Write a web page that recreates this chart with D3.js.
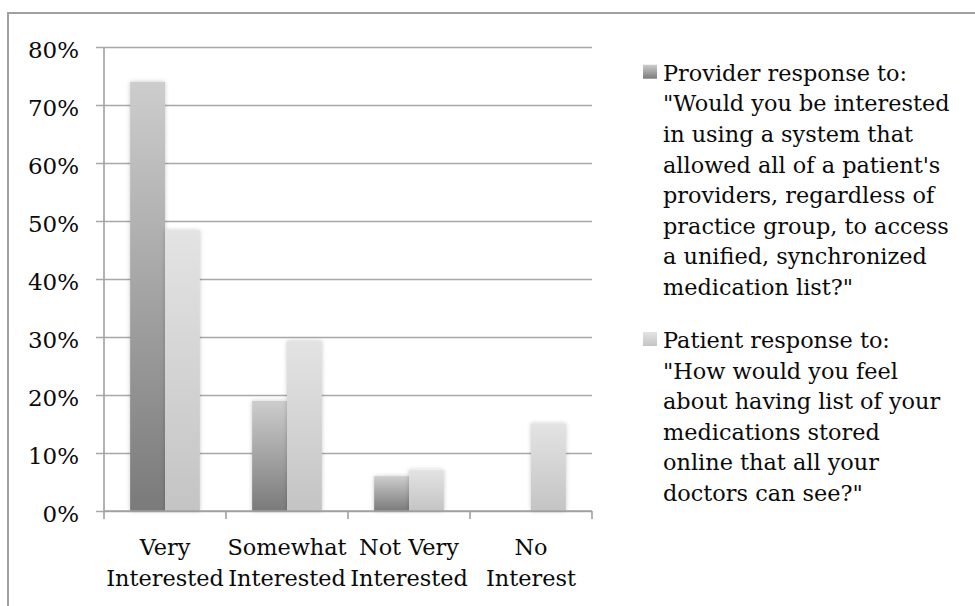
<!DOCTYPE html>
<html>
<head>
<meta charset="utf-8">
<script src="https://cdn.jsdelivr.net/npm/d3@7"></script>
<style>
  html, body { margin: 0; padding: 0; background: #fff; }
  svg { display: block; }
  text { font-family: "DejaVu Serif", "Liberation Serif", serif; fill: #0a0a0a; }
</style>
</head>
<body>
<svg id="chart" width="975" height="606"></svg>
<script>
// Survey categories and response shares (percent)
const categories = ["Very Interested", "Somewhat Interested", "Not Very Interested", "No Interest"];
const categoryLines = [["Very", "Interested"], ["Somewhat", "Interested"], ["Not Very", "Interested"], ["No", "Interest"]];
const providerValues = [74, 19, 6, 0];
const patientValues = [48.4, 29.3, 7.1, 15.1];
const yTicks = [0, 10, 20, 30, 40, 50, 60, 70, 80];
const seriesKeys = ["provider", "patient"];
const legendProvider = [
  "Provider response to:",
  "\"Would you be interested",
  "in using a system that",
  "allowed all of a patient's",
  "providers, regardless of",
  "practice group, to access",
  "a unified, synchronized",
  "medication list?\""
];
const legendPatient = [
  "Patient response to:",
  "\"How would you feel",
  "about having list of your",
  "medications stored",
  "online that all your",
  "doctors can see?\""
];

const svg = d3.select("#chart");
const plot = { left: 104, right: 592, top: 47, bottom: 511 };
const fontSize = 22.4;
const axisFontSize = 23;
const lineH = 30.6;

// Gradients and soft glow for bars
const defs = svg.append("defs");
function vGrad(id, top, bottom) {
  const g = defs.append("linearGradient").attr("id", id)
    .attr("x1", 0).attr("y1", 0).attr("x2", 0).attr("y2", 1);
  g.append("stop").attr("offset", "0%").attr("stop-color", top);
  g.append("stop").attr("offset", "100%").attr("stop-color", bottom);
}
vGrad("grad-provider", "#cdcdcd", "#7a7a7a");
vGrad("grad-patient", "#e3e3e3", "#c4c4c4");
const glow = defs.append("filter").attr("id", "glow")
  .attr("x", "-30%").attr("y", "-10%").attr("width", "160%").attr("height", "120%");
glow.append("feDropShadow").attr("dx", 0).attr("dy", 0).attr("stdDeviation", 2)
  .attr("flood-color", "#000").attr("flood-opacity", 0.22);

// Outer frame
svg.append("rect").attr("x", 8).attr("y", 13).attr("width", 1000).attr("height", 700)
  .attr("fill", "none").attr("stroke", "#a0a0a0").attr("stroke-width", 2);

// Scales
const x0 = d3.scaleBand().domain(categories).range([plot.left, plot.right]).padding(0);
const x1 = d3.scaleBand().domain(seriesKeys).range([0, x0.bandwidth()])
  .paddingInner(0).paddingOuter(0.75);
const y = d3.scaleLinear().domain([0, 80]).range([plot.bottom, plot.top]);

// Gridlines with y axis ticks
const yAxis = d3.axisLeft(y).tickValues(yTicks).tickFormat(d => d + "%")
  .tickSize(-(plot.right - plot.left)).tickPadding(0);
const gy = svg.append("g").attr("transform", `translate(${plot.left},0)`).call(yAxis);
gy.select(".domain").remove();
gy.selectAll(".tick line").attr("stroke", "#a8a8a8").attr("stroke-width", 1.6).attr("x1", -8);
gy.selectAll(".tick text")
  .attr("x", -25).attr("dy", "0.45em")
  .style("font-size", axisFontSize + "px").attr("font-family", null);

// Bars
const rows = categories.map((c, i) => ({ cat: c, provider: providerValues[i], patient: patientValues[i] }));
const groups = svg.append("g").selectAll("g").data(rows).join("g")
  .attr("transform", d => `translate(${x0(d.cat)},0)`);
groups.selectAll("rect")
  .data(d => seriesKeys.map(k => ({ key: k, value: d[k] })).filter(e => e.value > 0))
  .join("rect")
  .attr("x", d => x1(d.key))
  .attr("width", x1.bandwidth())
  .attr("y", d => y(d.value))
  .attr("height", d => y(0) - y(d.value))
  .attr("fill", d => `url(#grad-${d.key})`)
  .attr("filter", "url(#glow)");

// Value axis line and category axis
svg.append("line").attr("x1", plot.left).attr("x2", plot.left)
  .attr("y1", plot.top).attr("y2", plot.bottom)
  .attr("stroke", "#a0a0a0").attr("stroke-width", 1.6);
const xAxis = d3.axisBottom(x0).tickSize(0).tickFormat("");
const gx = svg.append("g").attr("transform", `translate(0,${plot.bottom})`).call(xAxis);
gx.select(".domain").attr("stroke", "#a0a0a0").attr("stroke-width", 1.6)
  .attr("d", `M${plot.left},0H${plot.right}`);
gx.selectAll(".tick").remove();
const boundaries = categories.map(c => x0(c)).concat([plot.right]);
gx.selectAll("line.sep").data(boundaries).join("line").attr("class", "sep")
  .attr("x1", d => d).attr("x2", d => d).attr("y1", 0).attr("y2", 8)
  .attr("stroke", "#a0a0a0").attr("stroke-width", 1.6);

// Category labels, two lines each
const labels = svg.append("g").selectAll("text").data(categories).join("text")
  .attr("x", d => x0(d) + x0.bandwidth() / 2)
  .attr("y", 555)
  .attr("text-anchor", "middle")
  .style("font-size", fontSize + "px");
labels.selectAll("tspan").data((d, i) => categoryLines[i]).join("tspan")
  .attr("x", function () { return this.parentNode.getAttribute("x"); })
  .attr("dy", (d, i) => i === 0 ? 0 : lineH)
  .text(d => d);

// Legend
const legendX = 663;
const legendEntries = [
  { key: "provider", lines: legendProvider, baseline: 80.7 },
  { key: "patient", lines: legendPatient, baseline: 348 }
];
const lg = svg.append("g").selectAll("g").data(legendEntries).join("g");
lg.append("rect")
  .attr("x", 643).attr("y", d => d.baseline - 16)
  .attr("width", 14).attr("height", 14)
  .attr("fill", d => `url(#grad-${d.key})`);
lg.append("text")
  .attr("x", legendX).attr("y", d => d.baseline)
  .style("font-size", fontSize + "px")
  .selectAll("tspan").data(d => d.lines).join("tspan")
  .attr("x", legendX).attr("dy", (d, i) => i === 0 ? 0 : lineH)
  .text(d => d);
</script>
</body>
</html>
